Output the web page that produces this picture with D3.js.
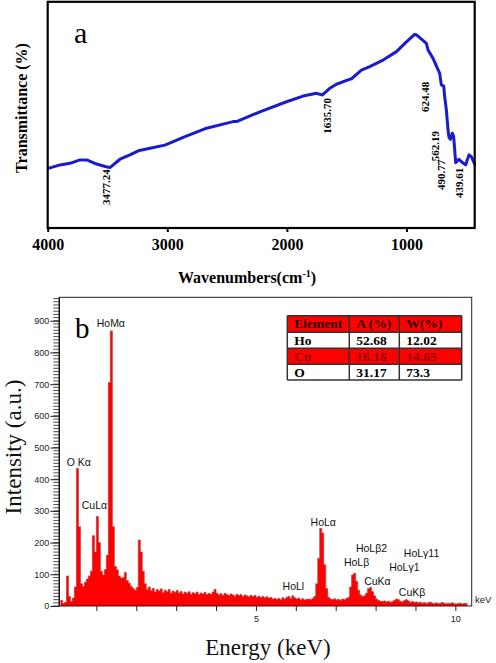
<!DOCTYPE html>
<html><head><meta charset="utf-8">
<script src="https://cdn.jsdelivr.net/npm/d3@7"></script>
<style>html,body{margin:0;padding:0;background:#fff;}svg{display:block;}</style>
</head><body>
<svg id="chart" width="496" height="663"></svg>
<script>
// ---------- Data: (a) FTIR ----------
const FTIR_WN = [3995,3897,3814,3730,3674,3591,3513,3477,3396,3312,3243,3145,3020,2867,2672,2450,2421,2226,2003,1865,1753,1703,1642,1586,1489,1460,1377,1308,1196,1084,1001,932,917,834,820,779,723,709,689,681,667,653,645,633,617,606,589,562,541,506,478,458,430];
const FTIR_T = [26.6,28.1,28.8,30.3,30.3,28.5,27.3,27.0,30.6,32.5,34.3,35.4,36.8,40.2,44.2,47.1,47.1,51.4,55.8,58.3,59.5,58.8,61.7,63.5,65.4,65.9,69.7,71.2,74.1,77.8,82.1,85.4,85.1,81.4,78.5,74.9,68.3,63.2,62.7,58.0,52.2,43.4,40.2,39.3,42.0,40.5,29.1,30.6,29.5,28.1,32.5,31.7,28.5];
const FTIR_TICKS = [4000,3000,2000,1000];
const FTIR_PEAK_LABELS = ["3477.24","1635.70","624.48","562.19","490.77","439.61"];
const FTIR_LABEL_WN = [3513,1669,848,764,709,561];
const FTIR_LABEL_T = [18.4,49.6,57.9,36.4,23.7,20.2];

// ---------- Data: (b) EDS ----------
const EDS_START = 0.10, EDS_STEP = 0.05;
const EDS_COUNTS = [
 18,8,12,95,30,15,25,60,434,250,
 70,62,75,85,95,110,222,170,282,200,
 110,98,115,160,705,868,250,125,114,95,
 88,90,106,80,72,62,55,50,58,208,
 170,110,70,52,60,48,55,44,52,47,
 54,42,50,45,52,40,47,43,49,41,
 46,38,44,40,45,37,42,39,44,36,
 41,38,43,36,40,37,44,52,40,35,
 39,34,40,36,33,38,35,31,37,33,
 36,30,35,32,29,34,30,33,28,31,
 27,30,26,29,25,27,22,24,21,24,
 20,26,22,27,30,24,32,26,22,25,
 20,23,19,21,22,20,24,30,70,150,
 245,230,130,55,28,22,20,23,19,21,
 18,22,20,24,28,60,98,103,78,50,
 35,30,32,40,55,58,45,32,22,18,
 15,14,16,13,15,12,14,18,22,20,
 15,13,17,20,16,12,14,11,13,10,
 12,9,11,8,10,12,9,8,10,7,
 9,11,8,7,9,8,10,7,6,8,
 9,6,8,7,10];
const EDS_X_TICKS = [1,2,3,4,5,6,7,8,9,10];
const EDS_X_LABELED = [5,10];
const EDS_Y_TICKS = [0,100,200,300,400,500,600,700,800,900];
const EDS_PEAK_NAMES = ["HoMα","O Kα","CuLα","HoLα","HoLβ2","HoLβ","HoLγ11","HoLγ1","CuKα","HoLl","CuKβ"];
const EDS_PEAK_KEV = [1.008,0.256,0.632,6.371,7.506,7.206,8.709,8.341,7.714,5.669,8.584];
const EDS_PEAK_CNT = [892,455,319,264,182,138,166,122,80,63,45];

const TABLE_HEADER = ["Element","A (%)","W(%)"];
const TABLE_ELEMENTS = ["Ho","Cu","O"];
const TABLE_ATOMIC = ["52.68","16.16","31.17"];
const TABLE_WEIGHT = ["12.02","14.65","73.3"];

// ---------- Drawing ----------
const svg = d3.select("#chart");
svg.append("rect").attr("width",496).attr("height",663).attr("fill","#fff");
const SERIF = "'Liberation Serif','Times New Roman',serif";
const SANS = "'Liberation Sans',Arial,sans-serif";

// ===== Panel a =====
const xA = d3.scaleLinear().domain([4000,430]).range([47.7,474.7]);
const yA = d3.scaleLinear().domain([0,100]).range([229,1]);
const gA = svg.append("g");

const axA = gA.append("g").attr("transform","translate(0,228)")
  .call(d3.axisBottom(xA).tickValues(FTIR_TICKS).tickSize(4).tickPadding(7).tickFormat(d3.format("d")));
axA.select(".domain").remove();
axA.selectAll("line").attr("stroke","#000").attr("stroke-width",2);
axA.selectAll("text").attr("font-family",SERIF).attr("font-weight","bold").attr("font-size",16).attr("fill","#000");

const lineA = d3.line().x((d,i)=>xA(FTIR_WN[i])).y(d=>yA(d)).curve(d3.curveLinear);
gA.append("path").datum(FTIR_T).attr("d",lineA).attr("fill","none")
  .attr("stroke","#1a1ccc").attr("stroke-width",3).attr("stroke-linejoin","round").attr("stroke-linecap","round");

gA.append("rect").attr("x",47.7).attr("y",1.8).attr("width",427).attr("height",226.2)
  .attr("fill","none").attr("stroke","#000").attr("stroke-width",2.2);

FTIR_PEAK_LABELS.forEach((t,i)=>{
  const x = xA(FTIR_LABEL_WN[i]), y = yA(FTIR_LABEL_T[i]);
  gA.append("text").attr("transform",`translate(${x},${y}) rotate(-90)`)
    .attr("text-anchor","middle").attr("dominant-baseline","central")
    .attr("font-family",SERIF).attr("font-weight","bold").attr("font-size",11).attr("fill","#000").text(t);
});

gA.append("text").attr("x",74).attr("y",43).attr("font-family",SERIF).attr("font-size",30).attr("fill","#000").text("a");

gA.append("text").attr("x",247).attr("y",283).attr("text-anchor","middle")
  .attr("font-family",SERIF).attr("font-weight","bold").attr("font-size",16).attr("fill","#000")
  .call(t=>{ t.append("tspan").text("Wavenumbers(cm");
             t.append("tspan").attr("font-size",10).attr("dy",-6).text("-1");
             t.append("tspan").attr("dy",6).text(")"); });

gA.append("text").attr("transform","translate(27,108) rotate(-90)").attr("text-anchor","middle")
  .attr("font-family",SERIF).attr("font-weight","bold").attr("font-size",16).attr("fill","#000").text("Transmittance (%)");

// ===== Panel b =====
const xB = d3.scaleLinear().domain([0.07,10.41]).range([59.3,471.7]);
const yB = d3.scaleLinear().domain([0,974]).range([606,297.3]);
const gB = svg.append("g");

gB.append("clipPath").attr("id","clipB").append("rect")
  .attr("x",59.3).attr("y",297.3).attr("width",412.4).attr("height",308.7);

const area = d3.area().x((d,i)=>xB(EDS_START+i*EDS_STEP)).y0(yB(0)).y1(d=>yB(d)).curve(d3.curveStepAfter);
const topLine = d3.line().x((d,i)=>xB(EDS_START+i*EDS_STEP)).y(d=>yB(d)).curve(d3.curveStepAfter);
const spec = gB.append("g").attr("clip-path","url(#clipB)");
spec.append("path").datum(EDS_COUNTS).attr("d",area).attr("fill","#ff0000");
spec.append("path").datum(EDS_COUNTS).attr("d",topLine).attr("fill","none").attr("stroke","#b83a3a").attr("stroke-width",0.7);

gB.append("rect").attr("x",59.3).attr("y",297.3).attr("width",412.4).attr("height",308.7)
  .attr("fill","none").attr("stroke","#222").attr("stroke-width",1);

// y axis minor ticks
const minor = d3.range(0,975,10);
gB.append("g").selectAll("line").data(minor).join("line")
  .attr("x1",53.3).attr("x2",59.3).attr("y1",d=>yB(d)).attr("y2",d=>yB(d))
  .attr("stroke","#222").attr("stroke-width",0.8);
const ayB = gB.append("g").attr("transform","translate(59.3,0)")
  .call(d3.axisLeft(yB).tickValues(EDS_Y_TICKS).tickSize(9).tickPadding(1));
ayB.select(".domain").attr("stroke","#111").attr("stroke-width",1.3).attr("d","M0,297.3V606");
ayB.selectAll("line").attr("stroke","#222").attr("stroke-width",1);
ayB.selectAll("text").attr("font-family",SANS).attr("font-size",9).attr("fill","#222");

const axB = gB.append("g").attr("transform","translate(0,606)")
  .call(d3.axisBottom(xB).tickValues(EDS_X_TICKS).tickSize(5).tickPadding(5)
    .tickFormat(d=>EDS_X_LABELED.includes(d)?String(d):""));
axB.select(".domain").remove();
axB.selectAll("line").attr("stroke","#222").attr("stroke-width",1);
axB.selectAll("text").attr("font-family",SANS).attr("font-size",9).attr("fill","#222");

gB.append("text").attr("x",475).attr("y",603).attr("font-family",SANS).attr("font-size",9.5).attr("fill","#222").text("keV");

EDS_PEAK_NAMES.forEach((t,i)=>{
  gB.append("text").attr("x",xB(EDS_PEAK_KEV[i])).attr("y",yB(EDS_PEAK_CNT[i]))
    .attr("dominant-baseline","central").attr("font-family",SANS).attr("font-size",10.5).attr("fill","#111").text(t);
});

gB.append("text").attr("x",75).attr("y",338).attr("font-family",SERIF).attr("font-size",29).attr("fill","#000").text("b");

gB.append("text").attr("x",268).attr("y",655).attr("text-anchor","middle")
  .attr("font-family",SERIF).attr("font-size",23).attr("fill","#111").text("Energy (keV)");
gB.append("text").attr("transform","translate(21,447) rotate(-90)").attr("text-anchor","middle")
  .attr("font-family",SERIF).attr("font-size",23).attr("fill","#111").text("Intensity (a.u.)");

// table
const colX = [287.3,349.3,399.3,461.7];
const rowY = [315.7,332.3,348.3,364.3,380];
const rows = [TABLE_HEADER].concat(TABLE_ELEMENTS.map((e,i)=>[e,TABLE_ATOMIC[i],TABLE_WEIGHT[i]]));
const rowFill = ["#ff0000","#ffffff","#ff0000","#ffffff"];
const rowText = ["#2a0000","#000000","#8a0000","#000000"];
const tbl = gB.append("g");
rows.forEach((r,ri)=>{
  tbl.append("rect").attr("x",colX[0]).attr("y",rowY[ri]).attr("width",colX[3]-colX[0]).attr("height",rowY[ri+1]-rowY[ri]).attr("fill",rowFill[ri]);
  r.forEach((c,ci)=>{
    tbl.append("text").attr("x",colX[ci]+7).attr("y",rowY[ri]+12.6)
      .attr("font-family",SERIF).attr("font-weight","bold").attr("font-size",13.5).attr("fill",rowText[ri]).text(c);
  });
});
rowY.forEach(y=>tbl.append("line").attr("x1",colX[0]).attr("x2",colX[3]).attr("y1",y).attr("y2",y).attr("stroke","#333").attr("stroke-width",1.5));
colX.forEach(x=>tbl.append("line").attr("x1",x).attr("x2",x).attr("y1",rowY[0]).attr("y2",rowY[4]).attr("stroke","#333").attr("stroke-width",1.5));
</script>
</body></html>
